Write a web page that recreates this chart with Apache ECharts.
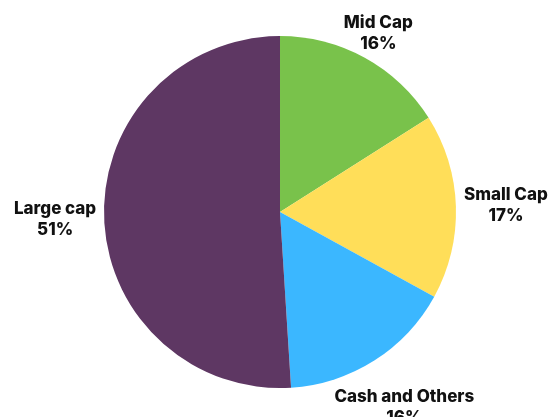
<!DOCTYPE html>
<html>
<head>
<meta charset="utf-8">
<script src="https://cdn.jsdelivr.net/npm/echarts@6/dist/echarts.min.js"></script>
<style>html,body{margin:0;padding:0;background:#fff;}#c{width:550px;height:417px;}</style>
</head>
<body>
<div id="c"></div>
<script>
const categories = ['Mid Cap', 'Small Cap', 'Cash and Others', 'Large cap'];
const values = [16, 17, 16, 51];
const colors = ['#79c24b', '#ffde59', '#3bb7ff', '#5e3763'];
const labelLens = [28, 50, 56, 49];

const chart = echarts.init(document.getElementById('c'));
chart.setOption({
  animation: false,
  series: [{
    type: 'pie',
    center: [280, 212],
    radius: 176,
    startAngle: 90,
    clockwise: true,
    avoidLabelOverlap: false,
    data: categories.map((n, i) => ({
      name: n, value: values[i],
      itemStyle: { color: colors[i] },
      labelLine: { length: labelLens[i] }
    })),
    itemStyle: { borderWidth: 0 },
    label: {
      show: true,
      position: 'outside',
      formatter: p => p.name + '\n' + p.value + '%',
      fontFamily: 'Inter',
      fontWeight: 800,
      fontSize: 17,
      lineHeight: 21,
      color: '#111',
      distanceToLabelLine: 0
    },
    labelLine: { show: false, length: 49, length2: 0 },
    labelLayout: () => ({ align: 'center', verticalAlign: 'middle' })
  }]
});
</script>
</body>
</html>
